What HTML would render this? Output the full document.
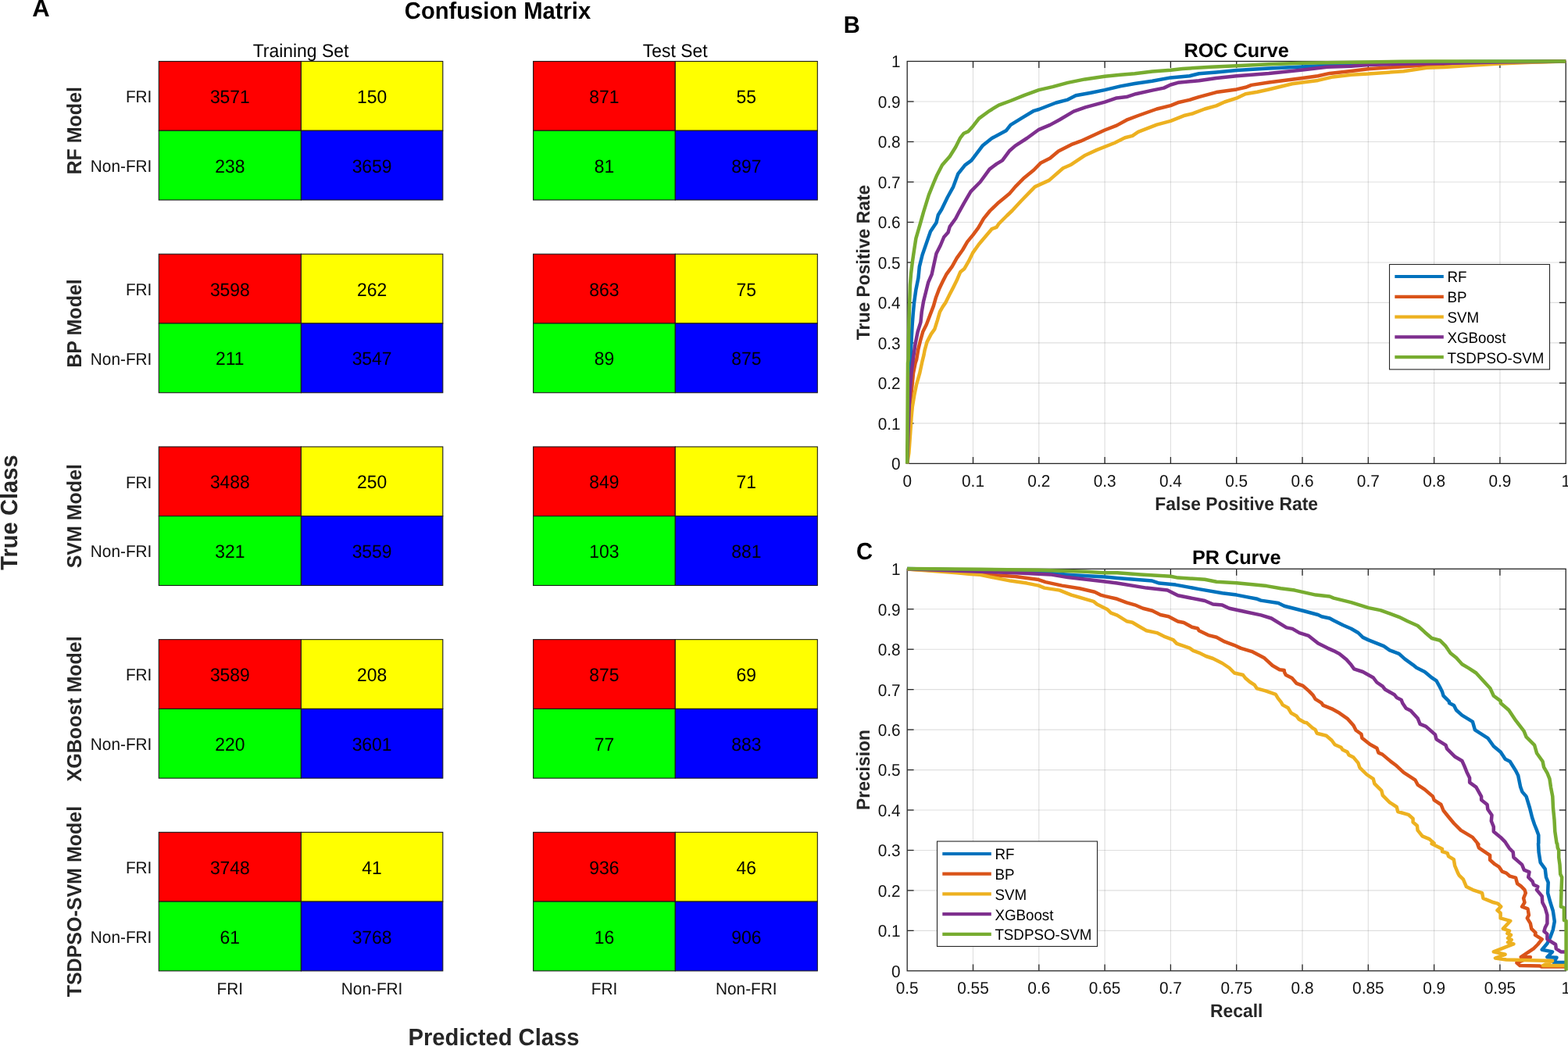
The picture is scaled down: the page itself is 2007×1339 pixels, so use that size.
<!DOCTYPE html>
<html lang="en"><head><meta charset="utf-8"><title>Confusion Matrix, ROC Curve and PR Curve</title>
<style>
html,body{margin:0;padding:0;background:#fff;}
body{width:2007px;height:1339px;overflow:hidden;}
svg{display:block;font-family:'Liberation Sans', sans-serif;text-rendering:geometricPrecision;}
</style></head><body>
<svg width="2007" height="1339" viewBox="0 0 2007 1339">
<rect width="2007" height="1339" fill="#fff"/>
<g id="panelA">
<rect x="203.30" y="78.50" width="182.10" height="88.75" fill="#ff0000" stroke="#1a1a1a" stroke-width="1.1"/>
<rect x="385.40" y="78.50" width="181.40" height="88.75" fill="#ffff00" stroke="#1a1a1a" stroke-width="1.1"/>
<rect x="203.30" y="167.25" width="182.10" height="88.75" fill="#00ff00" stroke="#1a1a1a" stroke-width="1.1"/>
<rect x="385.40" y="167.25" width="181.40" height="88.75" fill="#0000ff" stroke="#1a1a1a" stroke-width="1.1"/>
<text transform="translate(294.35 131.97) scale(1 1.04)" font-size="22.9" font-weight="normal" text-anchor="middle" fill="#000">3571</text>
<text transform="translate(476.10 131.97) scale(1 1.04)" font-size="22.9" font-weight="normal" text-anchor="middle" fill="#000">150</text>
<text transform="translate(294.35 220.72) scale(1 1.04)" font-size="22.9" font-weight="normal" text-anchor="middle" fill="#000">238</text>
<text transform="translate(476.10 220.72) scale(1 1.04)" font-size="22.9" font-weight="normal" text-anchor="middle" fill="#000">3659</text>
<rect x="682.60" y="78.50" width="181.70" height="88.75" fill="#ff0000" stroke="#1a1a1a" stroke-width="1.1"/>
<rect x="864.30" y="78.50" width="182.00" height="88.75" fill="#ffff00" stroke="#1a1a1a" stroke-width="1.1"/>
<rect x="682.60" y="167.25" width="181.70" height="88.75" fill="#00ff00" stroke="#1a1a1a" stroke-width="1.1"/>
<rect x="864.30" y="167.25" width="182.00" height="88.75" fill="#0000ff" stroke="#1a1a1a" stroke-width="1.1"/>
<text transform="translate(773.45 131.97) scale(1 1.04)" font-size="22.9" font-weight="normal" text-anchor="middle" fill="#000">871</text>
<text transform="translate(955.30 131.97) scale(1 1.04)" font-size="22.9" font-weight="normal" text-anchor="middle" fill="#000">55</text>
<text transform="translate(773.45 220.72) scale(1 1.04)" font-size="22.9" font-weight="normal" text-anchor="middle" fill="#000">81</text>
<text transform="translate(955.30 220.72) scale(1 1.04)" font-size="22.9" font-weight="normal" text-anchor="middle" fill="#000">897</text>
<text transform="translate(194.4 131.07) scale(1 1.04)" font-size="20.8" font-weight="normal" text-anchor="end" fill="#111111">FRI</text>
<text transform="translate(194.4 219.82) scale(1 1.04)" font-size="20.8" font-weight="normal" text-anchor="end" fill="#111111">Non-FRI</text>
<text transform="translate(103.9 167.25) rotate(-90) scale(1 1.04)" font-size="25" font-weight="bold" text-anchor="middle" fill="#262626">RF Model</text>
<rect x="203.30" y="325.22" width="182.10" height="88.75" fill="#ff0000" stroke="#1a1a1a" stroke-width="1.1"/>
<rect x="385.40" y="325.22" width="181.40" height="88.75" fill="#ffff00" stroke="#1a1a1a" stroke-width="1.1"/>
<rect x="203.30" y="413.97" width="182.10" height="88.75" fill="#00ff00" stroke="#1a1a1a" stroke-width="1.1"/>
<rect x="385.40" y="413.97" width="181.40" height="88.75" fill="#0000ff" stroke="#1a1a1a" stroke-width="1.1"/>
<text transform="translate(294.35 378.70) scale(1 1.04)" font-size="22.9" font-weight="normal" text-anchor="middle" fill="#000">3598</text>
<text transform="translate(476.10 378.70) scale(1 1.04)" font-size="22.9" font-weight="normal" text-anchor="middle" fill="#000">262</text>
<text transform="translate(294.35 467.45) scale(1 1.04)" font-size="22.9" font-weight="normal" text-anchor="middle" fill="#000">211</text>
<text transform="translate(476.10 467.45) scale(1 1.04)" font-size="22.9" font-weight="normal" text-anchor="middle" fill="#000">3547</text>
<rect x="682.60" y="325.22" width="181.70" height="88.75" fill="#ff0000" stroke="#1a1a1a" stroke-width="1.1"/>
<rect x="864.30" y="325.22" width="182.00" height="88.75" fill="#ffff00" stroke="#1a1a1a" stroke-width="1.1"/>
<rect x="682.60" y="413.97" width="181.70" height="88.75" fill="#00ff00" stroke="#1a1a1a" stroke-width="1.1"/>
<rect x="864.30" y="413.97" width="182.00" height="88.75" fill="#0000ff" stroke="#1a1a1a" stroke-width="1.1"/>
<text transform="translate(773.45 378.70) scale(1 1.04)" font-size="22.9" font-weight="normal" text-anchor="middle" fill="#000">863</text>
<text transform="translate(955.30 378.70) scale(1 1.04)" font-size="22.9" font-weight="normal" text-anchor="middle" fill="#000">75</text>
<text transform="translate(773.45 467.45) scale(1 1.04)" font-size="22.9" font-weight="normal" text-anchor="middle" fill="#000">89</text>
<text transform="translate(955.30 467.45) scale(1 1.04)" font-size="22.9" font-weight="normal" text-anchor="middle" fill="#000">875</text>
<text transform="translate(194.4 377.80) scale(1 1.04)" font-size="20.8" font-weight="normal" text-anchor="end" fill="#111111">FRI</text>
<text transform="translate(194.4 466.55) scale(1 1.04)" font-size="20.8" font-weight="normal" text-anchor="end" fill="#111111">Non-FRI</text>
<text transform="translate(103.9 413.97) rotate(-90) scale(1 1.04)" font-size="25" font-weight="bold" text-anchor="middle" fill="#262626">BP Model</text>
<rect x="203.30" y="571.94" width="182.10" height="88.75" fill="#ff0000" stroke="#1a1a1a" stroke-width="1.1"/>
<rect x="385.40" y="571.94" width="181.40" height="88.75" fill="#ffff00" stroke="#1a1a1a" stroke-width="1.1"/>
<rect x="203.30" y="660.69" width="182.10" height="88.75" fill="#00ff00" stroke="#1a1a1a" stroke-width="1.1"/>
<rect x="385.40" y="660.69" width="181.40" height="88.75" fill="#0000ff" stroke="#1a1a1a" stroke-width="1.1"/>
<text transform="translate(294.35 625.42) scale(1 1.04)" font-size="22.9" font-weight="normal" text-anchor="middle" fill="#000">3488</text>
<text transform="translate(476.10 625.42) scale(1 1.04)" font-size="22.9" font-weight="normal" text-anchor="middle" fill="#000">250</text>
<text transform="translate(294.35 714.17) scale(1 1.04)" font-size="22.9" font-weight="normal" text-anchor="middle" fill="#000">321</text>
<text transform="translate(476.10 714.17) scale(1 1.04)" font-size="22.9" font-weight="normal" text-anchor="middle" fill="#000">3559</text>
<rect x="682.60" y="571.94" width="181.70" height="88.75" fill="#ff0000" stroke="#1a1a1a" stroke-width="1.1"/>
<rect x="864.30" y="571.94" width="182.00" height="88.75" fill="#ffff00" stroke="#1a1a1a" stroke-width="1.1"/>
<rect x="682.60" y="660.69" width="181.70" height="88.75" fill="#00ff00" stroke="#1a1a1a" stroke-width="1.1"/>
<rect x="864.30" y="660.69" width="182.00" height="88.75" fill="#0000ff" stroke="#1a1a1a" stroke-width="1.1"/>
<text transform="translate(773.45 625.42) scale(1 1.04)" font-size="22.9" font-weight="normal" text-anchor="middle" fill="#000">849</text>
<text transform="translate(955.30 625.42) scale(1 1.04)" font-size="22.9" font-weight="normal" text-anchor="middle" fill="#000">71</text>
<text transform="translate(773.45 714.17) scale(1 1.04)" font-size="22.9" font-weight="normal" text-anchor="middle" fill="#000">103</text>
<text transform="translate(955.30 714.17) scale(1 1.04)" font-size="22.9" font-weight="normal" text-anchor="middle" fill="#000">881</text>
<text transform="translate(194.4 624.52) scale(1 1.04)" font-size="20.8" font-weight="normal" text-anchor="end" fill="#111111">FRI</text>
<text transform="translate(194.4 713.27) scale(1 1.04)" font-size="20.8" font-weight="normal" text-anchor="end" fill="#111111">Non-FRI</text>
<text transform="translate(103.9 660.69) rotate(-90) scale(1 1.04)" font-size="25" font-weight="bold" text-anchor="middle" fill="#262626">SVM Model</text>
<rect x="203.30" y="818.66" width="182.10" height="88.75" fill="#ff0000" stroke="#1a1a1a" stroke-width="1.1"/>
<rect x="385.40" y="818.66" width="181.40" height="88.75" fill="#ffff00" stroke="#1a1a1a" stroke-width="1.1"/>
<rect x="203.30" y="907.41" width="182.10" height="88.75" fill="#00ff00" stroke="#1a1a1a" stroke-width="1.1"/>
<rect x="385.40" y="907.41" width="181.40" height="88.75" fill="#0000ff" stroke="#1a1a1a" stroke-width="1.1"/>
<text transform="translate(294.35 872.13) scale(1 1.04)" font-size="22.9" font-weight="normal" text-anchor="middle" fill="#000">3589</text>
<text transform="translate(476.10 872.13) scale(1 1.04)" font-size="22.9" font-weight="normal" text-anchor="middle" fill="#000">208</text>
<text transform="translate(294.35 960.88) scale(1 1.04)" font-size="22.9" font-weight="normal" text-anchor="middle" fill="#000">220</text>
<text transform="translate(476.10 960.88) scale(1 1.04)" font-size="22.9" font-weight="normal" text-anchor="middle" fill="#000">3601</text>
<rect x="682.60" y="818.66" width="181.70" height="88.75" fill="#ff0000" stroke="#1a1a1a" stroke-width="1.1"/>
<rect x="864.30" y="818.66" width="182.00" height="88.75" fill="#ffff00" stroke="#1a1a1a" stroke-width="1.1"/>
<rect x="682.60" y="907.41" width="181.70" height="88.75" fill="#00ff00" stroke="#1a1a1a" stroke-width="1.1"/>
<rect x="864.30" y="907.41" width="182.00" height="88.75" fill="#0000ff" stroke="#1a1a1a" stroke-width="1.1"/>
<text transform="translate(773.45 872.13) scale(1 1.04)" font-size="22.9" font-weight="normal" text-anchor="middle" fill="#000">875</text>
<text transform="translate(955.30 872.13) scale(1 1.04)" font-size="22.9" font-weight="normal" text-anchor="middle" fill="#000">69</text>
<text transform="translate(773.45 960.88) scale(1 1.04)" font-size="22.9" font-weight="normal" text-anchor="middle" fill="#000">77</text>
<text transform="translate(955.30 960.88) scale(1 1.04)" font-size="22.9" font-weight="normal" text-anchor="middle" fill="#000">883</text>
<text transform="translate(194.4 871.24) scale(1 1.04)" font-size="20.8" font-weight="normal" text-anchor="end" fill="#111111">FRI</text>
<text transform="translate(194.4 959.99) scale(1 1.04)" font-size="20.8" font-weight="normal" text-anchor="end" fill="#111111">Non-FRI</text>
<text transform="translate(103.9 907.41) rotate(-90) scale(1 1.04)" font-size="25" font-weight="bold" text-anchor="middle" fill="#262626">XGBoost Model</text>
<rect x="203.30" y="1065.38" width="182.10" height="88.75" fill="#ff0000" stroke="#1a1a1a" stroke-width="1.1"/>
<rect x="385.40" y="1065.38" width="181.40" height="88.75" fill="#ffff00" stroke="#1a1a1a" stroke-width="1.1"/>
<rect x="203.30" y="1154.13" width="182.10" height="88.75" fill="#00ff00" stroke="#1a1a1a" stroke-width="1.1"/>
<rect x="385.40" y="1154.13" width="181.40" height="88.75" fill="#0000ff" stroke="#1a1a1a" stroke-width="1.1"/>
<text transform="translate(294.35 1118.86) scale(1 1.04)" font-size="22.9" font-weight="normal" text-anchor="middle" fill="#000">3748</text>
<text transform="translate(476.10 1118.86) scale(1 1.04)" font-size="22.9" font-weight="normal" text-anchor="middle" fill="#000">41</text>
<text transform="translate(294.35 1207.61) scale(1 1.04)" font-size="22.9" font-weight="normal" text-anchor="middle" fill="#000">61</text>
<text transform="translate(476.10 1207.61) scale(1 1.04)" font-size="22.9" font-weight="normal" text-anchor="middle" fill="#000">3768</text>
<rect x="682.60" y="1065.38" width="181.70" height="88.75" fill="#ff0000" stroke="#1a1a1a" stroke-width="1.1"/>
<rect x="864.30" y="1065.38" width="182.00" height="88.75" fill="#ffff00" stroke="#1a1a1a" stroke-width="1.1"/>
<rect x="682.60" y="1154.13" width="181.70" height="88.75" fill="#00ff00" stroke="#1a1a1a" stroke-width="1.1"/>
<rect x="864.30" y="1154.13" width="182.00" height="88.75" fill="#0000ff" stroke="#1a1a1a" stroke-width="1.1"/>
<text transform="translate(773.45 1118.86) scale(1 1.04)" font-size="22.9" font-weight="normal" text-anchor="middle" fill="#000">936</text>
<text transform="translate(955.30 1118.86) scale(1 1.04)" font-size="22.9" font-weight="normal" text-anchor="middle" fill="#000">46</text>
<text transform="translate(773.45 1207.61) scale(1 1.04)" font-size="22.9" font-weight="normal" text-anchor="middle" fill="#000">16</text>
<text transform="translate(955.30 1207.61) scale(1 1.04)" font-size="22.9" font-weight="normal" text-anchor="middle" fill="#000">906</text>
<text transform="translate(194.4 1117.96) scale(1 1.04)" font-size="20.8" font-weight="normal" text-anchor="end" fill="#111111">FRI</text>
<text transform="translate(194.4 1206.71) scale(1 1.04)" font-size="20.8" font-weight="normal" text-anchor="end" fill="#111111">Non-FRI</text>
<text transform="translate(103.9 1154.13) rotate(-90) scale(1 1.04)" font-size="25" font-weight="bold" text-anchor="middle" fill="#262626">TSDPSO-SVM Model</text>
<text transform="translate(385 73.2) scale(1 1.04)" font-size="22.9" font-weight="normal" text-anchor="middle" fill="#000">Training Set</text>
<text transform="translate(864.2 73.2) scale(1 1.04)" font-size="22.9" font-weight="normal" text-anchor="middle" fill="#000">Test Set</text>
<text transform="translate(294.35 1272.6) scale(1 1.04)" font-size="20.8" font-weight="normal" text-anchor="middle" fill="#111111">FRI</text>
<text transform="translate(476.10 1272.6) scale(1 1.04)" font-size="20.8" font-weight="normal" text-anchor="middle" fill="#111111">Non-FRI</text>
<text transform="translate(773.45 1272.6) scale(1 1.04)" font-size="20.8" font-weight="normal" text-anchor="middle" fill="#111111">FRI</text>
<text transform="translate(955.30 1272.6) scale(1 1.04)" font-size="20.8" font-weight="normal" text-anchor="middle" fill="#111111">Non-FRI</text>
<text transform="translate(41.3 20.6)" font-size="31" font-weight="bold" text-anchor="start" fill="#000">A</text>
<text transform="translate(637 24) scale(1 1.04)" font-size="29.2" font-weight="bold" text-anchor="middle" fill="#000">Confusion Matrix</text>
<text transform="translate(22 656) rotate(-90) scale(1 1.04)" font-size="29.2" font-weight="bold" text-anchor="middle" fill="#262626">True Class</text>
<text transform="translate(632 1338.4) scale(1 1.04)" font-size="29.2" font-weight="bold" text-anchor="middle" fill="#262626">Predicted Class</text>
</g>
<g id="panelB">
<rect x="1161.2" y="78.5" width="843.00" height="514.90" fill="#fff"/>
<line x1="1245.50" y1="78.5" x2="1245.50" y2="593.4" stroke="#262626" stroke-opacity="0.15" stroke-width="1.15"/>
<line x1="1329.80" y1="78.5" x2="1329.80" y2="593.4" stroke="#262626" stroke-opacity="0.15" stroke-width="1.15"/>
<line x1="1414.10" y1="78.5" x2="1414.10" y2="593.4" stroke="#262626" stroke-opacity="0.15" stroke-width="1.15"/>
<line x1="1498.40" y1="78.5" x2="1498.40" y2="593.4" stroke="#262626" stroke-opacity="0.15" stroke-width="1.15"/>
<line x1="1582.70" y1="78.5" x2="1582.70" y2="593.4" stroke="#262626" stroke-opacity="0.15" stroke-width="1.15"/>
<line x1="1667.00" y1="78.5" x2="1667.00" y2="593.4" stroke="#262626" stroke-opacity="0.15" stroke-width="1.15"/>
<line x1="1751.30" y1="78.5" x2="1751.30" y2="593.4" stroke="#262626" stroke-opacity="0.15" stroke-width="1.15"/>
<line x1="1835.60" y1="78.5" x2="1835.60" y2="593.4" stroke="#262626" stroke-opacity="0.15" stroke-width="1.15"/>
<line x1="1919.90" y1="78.5" x2="1919.90" y2="593.4" stroke="#262626" stroke-opacity="0.15" stroke-width="1.15"/>
<line x1="1161.2" y1="541.91" x2="2004.2" y2="541.91" stroke="#262626" stroke-opacity="0.15" stroke-width="1.15"/>
<line x1="1161.2" y1="490.42" x2="2004.2" y2="490.42" stroke="#262626" stroke-opacity="0.15" stroke-width="1.15"/>
<line x1="1161.2" y1="438.93" x2="2004.2" y2="438.93" stroke="#262626" stroke-opacity="0.15" stroke-width="1.15"/>
<line x1="1161.2" y1="387.44" x2="2004.2" y2="387.44" stroke="#262626" stroke-opacity="0.15" stroke-width="1.15"/>
<line x1="1161.2" y1="335.95" x2="2004.2" y2="335.95" stroke="#262626" stroke-opacity="0.15" stroke-width="1.15"/>
<line x1="1161.2" y1="284.46" x2="2004.2" y2="284.46" stroke="#262626" stroke-opacity="0.15" stroke-width="1.15"/>
<line x1="1161.2" y1="232.97" x2="2004.2" y2="232.97" stroke="#262626" stroke-opacity="0.15" stroke-width="1.15"/>
<line x1="1161.2" y1="181.48" x2="2004.2" y2="181.48" stroke="#262626" stroke-opacity="0.15" stroke-width="1.15"/>
<line x1="1161.2" y1="129.99" x2="2004.2" y2="129.99" stroke="#262626" stroke-opacity="0.15" stroke-width="1.15"/>
<text transform="translate(1161.20 622.50) scale(1 1.04)" font-size="20.8" font-weight="normal" text-anchor="middle" fill="#111111">0</text>
<line x1="1245.50" y1="593.4" x2="1245.50" y2="585.0" stroke="#262626" stroke-width="1.3"/>
<line x1="1245.50" y1="78.5" x2="1245.50" y2="86.9" stroke="#262626" stroke-width="1.3"/>
<text transform="translate(1245.50 622.50) scale(1 1.04)" font-size="20.8" font-weight="normal" text-anchor="middle" fill="#111111">0.1</text>
<line x1="1329.80" y1="593.4" x2="1329.80" y2="585.0" stroke="#262626" stroke-width="1.3"/>
<line x1="1329.80" y1="78.5" x2="1329.80" y2="86.9" stroke="#262626" stroke-width="1.3"/>
<text transform="translate(1329.80 622.50) scale(1 1.04)" font-size="20.8" font-weight="normal" text-anchor="middle" fill="#111111">0.2</text>
<line x1="1414.10" y1="593.4" x2="1414.10" y2="585.0" stroke="#262626" stroke-width="1.3"/>
<line x1="1414.10" y1="78.5" x2="1414.10" y2="86.9" stroke="#262626" stroke-width="1.3"/>
<text transform="translate(1414.10 622.50) scale(1 1.04)" font-size="20.8" font-weight="normal" text-anchor="middle" fill="#111111">0.3</text>
<line x1="1498.40" y1="593.4" x2="1498.40" y2="585.0" stroke="#262626" stroke-width="1.3"/>
<line x1="1498.40" y1="78.5" x2="1498.40" y2="86.9" stroke="#262626" stroke-width="1.3"/>
<text transform="translate(1498.40 622.50) scale(1 1.04)" font-size="20.8" font-weight="normal" text-anchor="middle" fill="#111111">0.4</text>
<line x1="1582.70" y1="593.4" x2="1582.70" y2="585.0" stroke="#262626" stroke-width="1.3"/>
<line x1="1582.70" y1="78.5" x2="1582.70" y2="86.9" stroke="#262626" stroke-width="1.3"/>
<text transform="translate(1582.70 622.50) scale(1 1.04)" font-size="20.8" font-weight="normal" text-anchor="middle" fill="#111111">0.5</text>
<line x1="1667.00" y1="593.4" x2="1667.00" y2="585.0" stroke="#262626" stroke-width="1.3"/>
<line x1="1667.00" y1="78.5" x2="1667.00" y2="86.9" stroke="#262626" stroke-width="1.3"/>
<text transform="translate(1667.00 622.50) scale(1 1.04)" font-size="20.8" font-weight="normal" text-anchor="middle" fill="#111111">0.6</text>
<line x1="1751.30" y1="593.4" x2="1751.30" y2="585.0" stroke="#262626" stroke-width="1.3"/>
<line x1="1751.30" y1="78.5" x2="1751.30" y2="86.9" stroke="#262626" stroke-width="1.3"/>
<text transform="translate(1751.30 622.50) scale(1 1.04)" font-size="20.8" font-weight="normal" text-anchor="middle" fill="#111111">0.7</text>
<line x1="1835.60" y1="593.4" x2="1835.60" y2="585.0" stroke="#262626" stroke-width="1.3"/>
<line x1="1835.60" y1="78.5" x2="1835.60" y2="86.9" stroke="#262626" stroke-width="1.3"/>
<text transform="translate(1835.60 622.50) scale(1 1.04)" font-size="20.8" font-weight="normal" text-anchor="middle" fill="#111111">0.8</text>
<line x1="1919.90" y1="593.4" x2="1919.90" y2="585.0" stroke="#262626" stroke-width="1.3"/>
<line x1="1919.90" y1="78.5" x2="1919.90" y2="86.9" stroke="#262626" stroke-width="1.3"/>
<text transform="translate(1919.90 622.50) scale(1 1.04)" font-size="20.8" font-weight="normal" text-anchor="middle" fill="#111111">0.9</text>
<text transform="translate(2004.20 622.50) scale(1 1.04)" font-size="20.8" font-weight="normal" text-anchor="middle" fill="#111111">1</text>
<text transform="translate(1152.60 601.30) scale(1 1.04)" font-size="20.8" font-weight="normal" text-anchor="end" fill="#111111">0</text>
<line x1="1161.2" y1="541.91" x2="1169.6000000000001" y2="541.91" stroke="#262626" stroke-width="1.3"/>
<line x1="2004.2" y1="541.91" x2="1995.8" y2="541.91" stroke="#262626" stroke-width="1.3"/>
<text transform="translate(1152.60 549.81) scale(1 1.04)" font-size="20.8" font-weight="normal" text-anchor="end" fill="#111111">0.1</text>
<line x1="1161.2" y1="490.42" x2="1169.6000000000001" y2="490.42" stroke="#262626" stroke-width="1.3"/>
<line x1="2004.2" y1="490.42" x2="1995.8" y2="490.42" stroke="#262626" stroke-width="1.3"/>
<text transform="translate(1152.60 498.32) scale(1 1.04)" font-size="20.8" font-weight="normal" text-anchor="end" fill="#111111">0.2</text>
<line x1="1161.2" y1="438.93" x2="1169.6000000000001" y2="438.93" stroke="#262626" stroke-width="1.3"/>
<line x1="2004.2" y1="438.93" x2="1995.8" y2="438.93" stroke="#262626" stroke-width="1.3"/>
<text transform="translate(1152.60 446.83) scale(1 1.04)" font-size="20.8" font-weight="normal" text-anchor="end" fill="#111111">0.3</text>
<line x1="1161.2" y1="387.44" x2="1169.6000000000001" y2="387.44" stroke="#262626" stroke-width="1.3"/>
<line x1="2004.2" y1="387.44" x2="1995.8" y2="387.44" stroke="#262626" stroke-width="1.3"/>
<text transform="translate(1152.60 395.34) scale(1 1.04)" font-size="20.8" font-weight="normal" text-anchor="end" fill="#111111">0.4</text>
<line x1="1161.2" y1="335.95" x2="1169.6000000000001" y2="335.95" stroke="#262626" stroke-width="1.3"/>
<line x1="2004.2" y1="335.95" x2="1995.8" y2="335.95" stroke="#262626" stroke-width="1.3"/>
<text transform="translate(1152.60 343.85) scale(1 1.04)" font-size="20.8" font-weight="normal" text-anchor="end" fill="#111111">0.5</text>
<line x1="1161.2" y1="284.46" x2="1169.6000000000001" y2="284.46" stroke="#262626" stroke-width="1.3"/>
<line x1="2004.2" y1="284.46" x2="1995.8" y2="284.46" stroke="#262626" stroke-width="1.3"/>
<text transform="translate(1152.60 292.36) scale(1 1.04)" font-size="20.8" font-weight="normal" text-anchor="end" fill="#111111">0.6</text>
<line x1="1161.2" y1="232.97" x2="1169.6000000000001" y2="232.97" stroke="#262626" stroke-width="1.3"/>
<line x1="2004.2" y1="232.97" x2="1995.8" y2="232.97" stroke="#262626" stroke-width="1.3"/>
<text transform="translate(1152.60 240.87) scale(1 1.04)" font-size="20.8" font-weight="normal" text-anchor="end" fill="#111111">0.7</text>
<line x1="1161.2" y1="181.48" x2="1169.6000000000001" y2="181.48" stroke="#262626" stroke-width="1.3"/>
<line x1="2004.2" y1="181.48" x2="1995.8" y2="181.48" stroke="#262626" stroke-width="1.3"/>
<text transform="translate(1152.60 189.38) scale(1 1.04)" font-size="20.8" font-weight="normal" text-anchor="end" fill="#111111">0.8</text>
<line x1="1161.2" y1="129.99" x2="1169.6000000000001" y2="129.99" stroke="#262626" stroke-width="1.3"/>
<line x1="2004.2" y1="129.99" x2="1995.8" y2="129.99" stroke="#262626" stroke-width="1.3"/>
<text transform="translate(1152.60 137.89) scale(1 1.04)" font-size="20.8" font-weight="normal" text-anchor="end" fill="#111111">0.9</text>
<text transform="translate(1152.60 86.40) scale(1 1.04)" font-size="20.8" font-weight="normal" text-anchor="end" fill="#111111">1</text>
<rect x="1161.2" y="78.5" width="843.00" height="514.90" fill="none" stroke="#262626" stroke-width="1.3"/>
<polyline points="1161.2,593.4 1163.7,516.2 1165.2,464.9 1165.7,460.0 1166.4,439.4 1167.6,417.0 1168.7,402.1 1170.1,387.1 1172.4,370.7 1175.4,356.0 1176.9,341.1 1180.6,326.2 1185.8,311.2 1191.0,296.3 1198.5,285.0 1200.8,275.2 1205.3,268.0 1212.8,252.5 1220.2,239.1 1226.2,222.7 1235.2,211.3 1243.4,205.4 1257.6,186.6 1269.5,177.0 1287.7,167.3 1293.6,159.9 1307.0,151.6 1323.4,141.8 1329.8,140.0 1351.7,131.5 1366.7,127.6 1377.0,122.3 1396.4,118.7 1414.1,115.1 1434.0,110.4 1452.4,107.0 1474.8,103.7 1498.4,99.4 1522.6,97.2 1534.6,94.2 1556.9,92.4 1582.7,90.1 1624.0,87.6 1667.0,85.4 1698.8,83.4 1729.4,82.3 1793.5,80.6 1877.8,79.0 2004.2,78.5" fill="none" stroke="#0072BD" stroke-width="4.5" stroke-linejoin="round" stroke-linecap="butt"/>
<polyline points="1161.2,593.4 1162.9,552.2 1165.0,516.2 1166.5,503.3 1167.8,490.4 1169.0,477.7 1171.6,464.9 1173.2,460.0 1175.4,446.7 1178.4,434.8 1181.3,424.5 1185.8,415.5 1190.3,403.6 1194.9,391.6 1197.8,381.3 1202.3,369.4 1206.7,360.3 1211.2,351.4 1218.7,341.1 1224.7,330.4 1232.1,320.0 1238.1,309.7 1245.5,300.6 1252.2,291.7 1259.0,279.8 1267.0,270.0 1277.0,260.3 1291.9,248.1 1299.5,239.1 1309.9,228.6 1323.4,217.5 1332.3,208.4 1344.1,202.4 1354.8,193.5 1371.1,185.2 1383.2,180.7 1401.1,172.5 1414.1,166.5 1429.3,160.6 1441.9,153.7 1456.8,148.0 1480.7,139.5 1498.4,135.1 1507.7,131.3 1522.6,127.9 1534.6,124.1 1556.9,118.1 1582.7,114.4 1594.2,111.8 1601.8,108.9 1624.0,105.5 1667.0,99.9 1686.9,97.2 1701.8,93.9 1729.4,90.9 1751.3,88.3 1796.6,85.2 1826.3,83.3 1856.3,81.8 1919.9,80.0 2004.2,78.5" fill="none" stroke="#D95319" stroke-width="4.5" stroke-linejoin="round" stroke-linecap="butt"/>
<polyline points="1161.2,593.4 1163.4,579.7 1165.2,554.3 1166.5,535.0 1167.8,521.0 1170.3,505.9 1172.9,493.0 1177.2,477.7 1180.5,462.4 1182.5,454.4 1183.6,448.4 1186.5,437.9 1191.8,427.6 1196.3,421.4 1200.0,409.6 1203.0,399.1 1206.7,392.6 1210.5,387.1 1215.7,376.6 1220.2,367.9 1224.7,358.8 1229.1,348.3 1234.4,343.9 1239.6,334.9 1245.5,323.1 1253.1,312.5 1262.0,302.0 1269.4,293.2 1275.4,290.9 1278.4,286.5 1288.9,276.0 1295.7,269.5 1307.0,257.2 1318.8,245.1 1324.7,239.1 1342.8,230.9 1360.7,215.2 1371.1,210.7 1389.1,198.7 1404.0,191.9 1426.5,183.0 1440.0,176.3 1449.5,173.9 1456.8,168.9 1480.7,159.6 1498.4,154.9 1516.6,147.7 1527.1,145.2 1542.0,139.5 1556.9,135.4 1567.5,130.5 1582.7,125.7 1594.2,120.2 1609.2,117.8 1624.0,114.5 1654.0,107.3 1667.0,105.5 1686.9,102.9 1706.3,98.4 1729.4,95.7 1751.3,94.6 1796.6,91.2 1826.3,86.7 1848.8,86.0 1886.2,83.6 1919.9,81.6 1961.0,79.7 2004.2,78.5" fill="none" stroke="#EDB120" stroke-width="4.5" stroke-linejoin="round" stroke-linecap="butt"/>
<polyline points="1161.2,593.4 1162.5,554.3 1163.4,528.5 1164.6,503.3 1166.5,477.7 1168.7,460.0 1171.7,439.4 1174.7,424.5 1178.4,412.7 1179.8,399.1 1182.1,385.6 1185.1,373.7 1188.1,361.7 1192.6,351.4 1195.5,338.0 1198.5,324.6 1203.8,314.0 1208.2,303.5 1213.5,297.6 1215.7,290.1 1223.2,279.8 1227.6,271.3 1233.7,260.3 1242.6,245.1 1254.6,233.0 1266.6,216.6 1275.5,209.9 1283.0,205.4 1291.9,193.3 1299.5,186.6 1314.4,177.0 1329.8,165.8 1344.1,159.9 1356.3,153.2 1374.2,142.6 1389.1,137.3 1414.1,130.6 1429.3,125.4 1441.9,124.1 1453.9,120.2 1474.8,115.6 1489.7,112.6 1498.4,108.5 1507.7,105.8 1534.6,103.2 1556.9,99.9 1582.7,97.2 1624.0,93.9 1667.0,89.4 1698.8,85.7 1729.4,84.7 1751.3,83.0 1796.6,81.8 1856.3,80.8 1919.9,79.5 2004.2,78.5" fill="none" stroke="#7E2F8E" stroke-width="4.5" stroke-linejoin="round" stroke-linecap="butt"/>
<polyline points="1161.2,593.4 1162.0,464.7 1162.7,460.0 1162.9,439.4 1163.5,409.6 1164.2,387.1 1164.9,364.8 1166.1,349.9 1167.9,334.9 1170.1,320.0 1172.4,305.1 1175.4,294.8 1178.4,284.5 1182.1,271.3 1188.9,249.4 1194.9,234.5 1199.3,224.2 1206.0,211.3 1215.7,200.2 1223.2,188.2 1229.2,176.3 1233.7,170.7 1239.6,168.1 1245.5,161.4 1253.1,151.6 1266.6,141.8 1278.4,134.6 1293.6,129.0 1311.3,121.8 1329.8,115.1 1347.3,111.1 1366.7,105.9 1388.8,101.4 1414.1,97.7 1434.0,95.7 1452.4,94.2 1474.8,91.6 1498.4,89.8 1513.6,87.9 1549.5,85.7 1582.7,84.2 1624.0,82.3 1667.0,80.8 1729.4,79.7 1793.5,78.8 1835.6,78.5 2004.2,78.5" fill="none" stroke="#77AC30" stroke-width="4.5" stroke-linejoin="round" stroke-linecap="butt"/>
<text transform="translate(1582.7 72.6)" font-size="25.2" font-weight="bold" text-anchor="middle" fill="#000">ROC Curve</text>
<text transform="translate(1582.7 652.9) scale(1 1.04)" font-size="22.9" font-weight="bold" text-anchor="middle" fill="#262626">False Positive Rate</text>
<text transform="translate(1113 335.9) rotate(-90) scale(1 1.04)" font-size="22.9" font-weight="bold" text-anchor="middle" fill="#262626">True Positive Rate</text>
<rect x="1778.5" y="338.5" width="205.0" height="134.39999999999998" fill="#fff" stroke="#262626" stroke-width="1.1"/>
<line x1="1785.3" y1="354" x2="1847.8" y2="354" stroke="#0072BD" stroke-width="4.2"/>
<text transform="translate(1852.4 361.4) scale(1 1.04)" font-size="18.75" font-weight="normal" text-anchor="start" fill="#000">RF</text>
<line x1="1785.3" y1="379.8" x2="1847.8" y2="379.8" stroke="#D95319" stroke-width="4.2"/>
<text transform="translate(1852.4 387.2) scale(1 1.04)" font-size="18.75" font-weight="normal" text-anchor="start" fill="#000">BP</text>
<line x1="1785.3" y1="405.6" x2="1847.8" y2="405.6" stroke="#EDB120" stroke-width="4.2"/>
<text transform="translate(1852.4 413.0) scale(1 1.04)" font-size="18.75" font-weight="normal" text-anchor="start" fill="#000">SVM</text>
<line x1="1785.3" y1="431.4" x2="1847.8" y2="431.4" stroke="#7E2F8E" stroke-width="4.2"/>
<text transform="translate(1852.4 438.8) scale(1 1.04)" font-size="18.75" font-weight="normal" text-anchor="start" fill="#000">XGBoost</text>
<line x1="1785.3" y1="457.2" x2="1847.8" y2="457.2" stroke="#77AC30" stroke-width="4.2"/>
<text transform="translate(1852.4 464.6) scale(1 1.04)" font-size="18.75" font-weight="normal" text-anchor="start" fill="#000">TSDPSO-SVM</text>
<text transform="translate(1079.7 41.5) scale(1 1.04)" font-size="29.2" font-weight="bold" text-anchor="start" fill="#000">B</text>
</g>
<g id="panelC">
<rect x="1161.2" y="728.3" width="843.00" height="514.50" fill="#fff"/>
<line x1="1245.50" y1="728.3" x2="1245.50" y2="1242.8" stroke="#262626" stroke-opacity="0.15" stroke-width="1.15"/>
<line x1="1329.80" y1="728.3" x2="1329.80" y2="1242.8" stroke="#262626" stroke-opacity="0.15" stroke-width="1.15"/>
<line x1="1414.10" y1="728.3" x2="1414.10" y2="1242.8" stroke="#262626" stroke-opacity="0.15" stroke-width="1.15"/>
<line x1="1498.40" y1="728.3" x2="1498.40" y2="1242.8" stroke="#262626" stroke-opacity="0.15" stroke-width="1.15"/>
<line x1="1582.70" y1="728.3" x2="1582.70" y2="1242.8" stroke="#262626" stroke-opacity="0.15" stroke-width="1.15"/>
<line x1="1667.00" y1="728.3" x2="1667.00" y2="1242.8" stroke="#262626" stroke-opacity="0.15" stroke-width="1.15"/>
<line x1="1751.30" y1="728.3" x2="1751.30" y2="1242.8" stroke="#262626" stroke-opacity="0.15" stroke-width="1.15"/>
<line x1="1835.60" y1="728.3" x2="1835.60" y2="1242.8" stroke="#262626" stroke-opacity="0.15" stroke-width="1.15"/>
<line x1="1919.90" y1="728.3" x2="1919.90" y2="1242.8" stroke="#262626" stroke-opacity="0.15" stroke-width="1.15"/>
<line x1="1161.2" y1="1191.35" x2="2004.2" y2="1191.35" stroke="#262626" stroke-opacity="0.15" stroke-width="1.15"/>
<line x1="1161.2" y1="1139.90" x2="2004.2" y2="1139.90" stroke="#262626" stroke-opacity="0.15" stroke-width="1.15"/>
<line x1="1161.2" y1="1088.45" x2="2004.2" y2="1088.45" stroke="#262626" stroke-opacity="0.15" stroke-width="1.15"/>
<line x1="1161.2" y1="1037.00" x2="2004.2" y2="1037.00" stroke="#262626" stroke-opacity="0.15" stroke-width="1.15"/>
<line x1="1161.2" y1="985.55" x2="2004.2" y2="985.55" stroke="#262626" stroke-opacity="0.15" stroke-width="1.15"/>
<line x1="1161.2" y1="934.10" x2="2004.2" y2="934.10" stroke="#262626" stroke-opacity="0.15" stroke-width="1.15"/>
<line x1="1161.2" y1="882.65" x2="2004.2" y2="882.65" stroke="#262626" stroke-opacity="0.15" stroke-width="1.15"/>
<line x1="1161.2" y1="831.20" x2="2004.2" y2="831.20" stroke="#262626" stroke-opacity="0.15" stroke-width="1.15"/>
<line x1="1161.2" y1="779.75" x2="2004.2" y2="779.75" stroke="#262626" stroke-opacity="0.15" stroke-width="1.15"/>
<text transform="translate(1161.20 1271.90) scale(1 1.04)" font-size="20.8" font-weight="normal" text-anchor="middle" fill="#111111">0.5</text>
<line x1="1245.50" y1="1242.8" x2="1245.50" y2="1234.3999999999999" stroke="#262626" stroke-width="1.3"/>
<line x1="1245.50" y1="728.3" x2="1245.50" y2="736.6999999999999" stroke="#262626" stroke-width="1.3"/>
<text transform="translate(1245.50 1271.90) scale(1 1.04)" font-size="20.8" font-weight="normal" text-anchor="middle" fill="#111111">0.55</text>
<line x1="1329.80" y1="1242.8" x2="1329.80" y2="1234.3999999999999" stroke="#262626" stroke-width="1.3"/>
<line x1="1329.80" y1="728.3" x2="1329.80" y2="736.6999999999999" stroke="#262626" stroke-width="1.3"/>
<text transform="translate(1329.80 1271.90) scale(1 1.04)" font-size="20.8" font-weight="normal" text-anchor="middle" fill="#111111">0.6</text>
<line x1="1414.10" y1="1242.8" x2="1414.10" y2="1234.3999999999999" stroke="#262626" stroke-width="1.3"/>
<line x1="1414.10" y1="728.3" x2="1414.10" y2="736.6999999999999" stroke="#262626" stroke-width="1.3"/>
<text transform="translate(1414.10 1271.90) scale(1 1.04)" font-size="20.8" font-weight="normal" text-anchor="middle" fill="#111111">0.65</text>
<line x1="1498.40" y1="1242.8" x2="1498.40" y2="1234.3999999999999" stroke="#262626" stroke-width="1.3"/>
<line x1="1498.40" y1="728.3" x2="1498.40" y2="736.6999999999999" stroke="#262626" stroke-width="1.3"/>
<text transform="translate(1498.40 1271.90) scale(1 1.04)" font-size="20.8" font-weight="normal" text-anchor="middle" fill="#111111">0.7</text>
<line x1="1582.70" y1="1242.8" x2="1582.70" y2="1234.3999999999999" stroke="#262626" stroke-width="1.3"/>
<line x1="1582.70" y1="728.3" x2="1582.70" y2="736.6999999999999" stroke="#262626" stroke-width="1.3"/>
<text transform="translate(1582.70 1271.90) scale(1 1.04)" font-size="20.8" font-weight="normal" text-anchor="middle" fill="#111111">0.75</text>
<line x1="1667.00" y1="1242.8" x2="1667.00" y2="1234.3999999999999" stroke="#262626" stroke-width="1.3"/>
<line x1="1667.00" y1="728.3" x2="1667.00" y2="736.6999999999999" stroke="#262626" stroke-width="1.3"/>
<text transform="translate(1667.00 1271.90) scale(1 1.04)" font-size="20.8" font-weight="normal" text-anchor="middle" fill="#111111">0.8</text>
<line x1="1751.30" y1="1242.8" x2="1751.30" y2="1234.3999999999999" stroke="#262626" stroke-width="1.3"/>
<line x1="1751.30" y1="728.3" x2="1751.30" y2="736.6999999999999" stroke="#262626" stroke-width="1.3"/>
<text transform="translate(1751.30 1271.90) scale(1 1.04)" font-size="20.8" font-weight="normal" text-anchor="middle" fill="#111111">0.85</text>
<line x1="1835.60" y1="1242.8" x2="1835.60" y2="1234.3999999999999" stroke="#262626" stroke-width="1.3"/>
<line x1="1835.60" y1="728.3" x2="1835.60" y2="736.6999999999999" stroke="#262626" stroke-width="1.3"/>
<text transform="translate(1835.60 1271.90) scale(1 1.04)" font-size="20.8" font-weight="normal" text-anchor="middle" fill="#111111">0.9</text>
<line x1="1919.90" y1="1242.8" x2="1919.90" y2="1234.3999999999999" stroke="#262626" stroke-width="1.3"/>
<line x1="1919.90" y1="728.3" x2="1919.90" y2="736.6999999999999" stroke="#262626" stroke-width="1.3"/>
<text transform="translate(1919.90 1271.90) scale(1 1.04)" font-size="20.8" font-weight="normal" text-anchor="middle" fill="#111111">0.95</text>
<text transform="translate(2004.20 1271.90) scale(1 1.04)" font-size="20.8" font-weight="normal" text-anchor="middle" fill="#111111">1</text>
<text transform="translate(1152.60 1250.70) scale(1 1.04)" font-size="20.8" font-weight="normal" text-anchor="end" fill="#111111">0</text>
<line x1="1161.2" y1="1191.35" x2="1169.6000000000001" y2="1191.35" stroke="#262626" stroke-width="1.3"/>
<line x1="2004.2" y1="1191.35" x2="1995.8" y2="1191.35" stroke="#262626" stroke-width="1.3"/>
<text transform="translate(1152.60 1199.25) scale(1 1.04)" font-size="20.8" font-weight="normal" text-anchor="end" fill="#111111">0.1</text>
<line x1="1161.2" y1="1139.90" x2="1169.6000000000001" y2="1139.90" stroke="#262626" stroke-width="1.3"/>
<line x1="2004.2" y1="1139.90" x2="1995.8" y2="1139.90" stroke="#262626" stroke-width="1.3"/>
<text transform="translate(1152.60 1147.80) scale(1 1.04)" font-size="20.8" font-weight="normal" text-anchor="end" fill="#111111">0.2</text>
<line x1="1161.2" y1="1088.45" x2="1169.6000000000001" y2="1088.45" stroke="#262626" stroke-width="1.3"/>
<line x1="2004.2" y1="1088.45" x2="1995.8" y2="1088.45" stroke="#262626" stroke-width="1.3"/>
<text transform="translate(1152.60 1096.35) scale(1 1.04)" font-size="20.8" font-weight="normal" text-anchor="end" fill="#111111">0.3</text>
<line x1="1161.2" y1="1037.00" x2="1169.6000000000001" y2="1037.00" stroke="#262626" stroke-width="1.3"/>
<line x1="2004.2" y1="1037.00" x2="1995.8" y2="1037.00" stroke="#262626" stroke-width="1.3"/>
<text transform="translate(1152.60 1044.90) scale(1 1.04)" font-size="20.8" font-weight="normal" text-anchor="end" fill="#111111">0.4</text>
<line x1="1161.2" y1="985.55" x2="1169.6000000000001" y2="985.55" stroke="#262626" stroke-width="1.3"/>
<line x1="2004.2" y1="985.55" x2="1995.8" y2="985.55" stroke="#262626" stroke-width="1.3"/>
<text transform="translate(1152.60 993.45) scale(1 1.04)" font-size="20.8" font-weight="normal" text-anchor="end" fill="#111111">0.5</text>
<line x1="1161.2" y1="934.10" x2="1169.6000000000001" y2="934.10" stroke="#262626" stroke-width="1.3"/>
<line x1="2004.2" y1="934.10" x2="1995.8" y2="934.10" stroke="#262626" stroke-width="1.3"/>
<text transform="translate(1152.60 942.00) scale(1 1.04)" font-size="20.8" font-weight="normal" text-anchor="end" fill="#111111">0.6</text>
<line x1="1161.2" y1="882.65" x2="1169.6000000000001" y2="882.65" stroke="#262626" stroke-width="1.3"/>
<line x1="2004.2" y1="882.65" x2="1995.8" y2="882.65" stroke="#262626" stroke-width="1.3"/>
<text transform="translate(1152.60 890.55) scale(1 1.04)" font-size="20.8" font-weight="normal" text-anchor="end" fill="#111111">0.7</text>
<line x1="1161.2" y1="831.20" x2="1169.6000000000001" y2="831.20" stroke="#262626" stroke-width="1.3"/>
<line x1="2004.2" y1="831.20" x2="1995.8" y2="831.20" stroke="#262626" stroke-width="1.3"/>
<text transform="translate(1152.60 839.10) scale(1 1.04)" font-size="20.8" font-weight="normal" text-anchor="end" fill="#111111">0.8</text>
<line x1="1161.2" y1="779.75" x2="1169.6000000000001" y2="779.75" stroke="#262626" stroke-width="1.3"/>
<line x1="2004.2" y1="779.75" x2="1995.8" y2="779.75" stroke="#262626" stroke-width="1.3"/>
<text transform="translate(1152.60 787.65) scale(1 1.04)" font-size="20.8" font-weight="normal" text-anchor="end" fill="#111111">0.9</text>
<text transform="translate(1152.60 736.20) scale(1 1.04)" font-size="20.8" font-weight="normal" text-anchor="end" fill="#111111">1</text>
<rect x="1161.2" y="728.3" width="843.00" height="514.50" fill="none" stroke="#262626" stroke-width="1.3"/>
<polyline points="1161.2,728.1 1299.5,730.9 1344.3,733.9 1374.2,736.2 1414.3,738.4 1430.0,739.9 1474.8,743.6 1483.8,746.6 1504.7,748.6 1534.6,754.1 1564.5,759.3 1582.8,761.6 1609.4,766.8 1613.9,768.6 1636.3,772.0 1643.8,775.8 1667.4,781.7 1687.1,787.0 1691.6,789.2 1702.0,791.5 1707.0,794.3 1719.0,800.3 1729.4,804.7 1738.4,810.0 1744.4,815.9 1751.8,819.4 1771.3,827.2 1778.7,832.4 1790.7,836.9 1798.2,843.6 1808.6,851.1 1813.1,854.8 1823.6,860.0 1832.6,867.5 1838.5,871.3 1843.0,879.5 1846.0,885.5 1847.5,890.7 1855.0,898.2 1855.0,900.0 1861.0,903.0 1864.0,909.0 1871.4,915.7 1884.9,923.9 1887.9,934.4 1904.3,944.8 1911.8,955.3 1920.8,962.8 1926.7,971.7 1932.7,974.7 1940.2,986.7 1943.2,992.7 1946.2,1007.6 1948.4,1013.6 1953.6,1019.6 1958.1,1034.5 1961.1,1046.5 1964.1,1055.5 1967.1,1062.9 1969.3,1068.9 1969.3,1079.4 1969.0,1080.0 1969.6,1090.8 1971.7,1104.2 1977.7,1112.3 1979.0,1123.0 1981.7,1129.7 1981.1,1143.2 1984.4,1155.3 1987.8,1166.0 1989.8,1179.5 1987.8,1190.2 1984.4,1199.6 1980.4,1207.7 1973.7,1215.8 1987.1,1218.4 1980.4,1225.2 1992.5,1225.8 1988.5,1231.9 2003.2,1231.9" fill="none" stroke="#0072BD" stroke-width="4.5" stroke-linejoin="round" stroke-linecap="butt"/>
<polyline points="1161.2,728.4 1209.8,730.9 1254.6,733.6 1277.1,736.6 1299.5,738.1 1329.4,742.1 1338.3,745.1 1359.3,749.6 1381.7,753.3 1401.1,757.8 1408.6,761.6 1414.3,763.1 1430.0,766.8 1442.0,771.3 1452.4,774.3 1462.9,778.8 1474.8,781.7 1485.3,787.0 1495.8,789.2 1507.7,795.5 1515.2,797.0 1525.7,802.7 1533.1,804.5 1534.6,807.2 1546.6,813.1 1557.1,815.8 1567.5,821.4 1579.5,825.8 1588.4,829.9 1603.4,834.4 1618.3,842.3 1628.8,852.0 1637.8,857.2 1643.8,858.0 1643.8,860.0 1645.8,864.0 1653.7,868.0 1659.7,874.9 1667.7,877.9 1675.7,884.9 1680.6,889.9 1683.6,894.9 1691.6,899.9 1693.6,902.9 1704.6,907.3 1714.5,912.8 1724.5,919.8 1732.5,928.8 1735.5,934.7 1742.4,939.7 1743.4,944.7 1753.4,952.7 1762.4,957.7 1764.4,963.6 1769.3,965.6 1780.0,974.6 1786.2,979.2 1796.7,988.9 1811.6,998.7 1814.6,1004.6 1823.6,1010.6 1834.1,1019.6 1835.6,1024.1 1844.5,1030.0 1847.5,1037.5 1853.5,1045.0 1861.0,1054.0 1869.9,1062.9 1884.9,1071.9 1892.4,1080.9 1891.0,1080.0 1893.0,1085.4 1901.1,1090.8 1907.1,1094.8 1907.1,1100.8 1913.2,1106.2 1918.6,1109.6 1922.6,1115.6 1928.0,1117.6 1932.7,1121.7 1940.1,1123.7 1942.1,1131.1 1946.8,1134.4 1951.5,1139.1 1952.8,1143.2 1950.1,1149.9 1951.5,1155.3 1948.1,1160.6 1955.5,1163.3 1956.9,1171.4 1954.8,1175.4 1958.9,1182.2 1960.2,1188.9 1965.6,1194.2 1964.9,1196.9 1973.7,1202.3 1968.3,1209.0 1962.9,1214.4 1956.9,1218.4 1946.8,1225.2 1958.9,1225.2 1941.4,1232.6 1945.4,1235.9 1971.0,1236.6 1973.7,1237.5 2003.2,1237.5" fill="none" stroke="#D95319" stroke-width="4.5" stroke-linejoin="round" stroke-linecap="butt"/>
<polyline points="1161.2,728.5 1194.8,730.9 1224.7,733.2 1242.7,735.1 1254.6,735.7 1266.6,738.4 1293.5,743.6 1314.4,746.6 1329.4,749.6 1336.8,752.6 1356.3,755.6 1371.2,761.6 1389.2,766.8 1399.6,769.8 1404.1,773.5 1417.6,780.3 1422.0,784.7 1430.0,787.7 1442.0,795.2 1449.4,796.7 1456.9,801.2 1467.4,807.2 1480.8,810.1 1489.8,814.6 1501.7,819.1 1506.2,823.9 1522.7,829.6 1527.2,832.9 1534.6,835.6 1543.6,840.0 1552.6,843.0 1564.5,849.0 1573.5,855.0 1580.0,861.5 1591.0,864.0 1594.0,868.0 1599.9,873.0 1605.9,876.9 1608.9,881.4 1619.9,884.4 1632.8,888.9 1635.8,893.9 1639.8,898.9 1641.8,902.4 1648.8,906.3 1652.7,912.8 1659.7,916.8 1662.7,920.8 1669.7,924.8 1672.7,925.3 1679.7,931.7 1683.6,934.2 1685.6,938.7 1697.6,941.7 1704.6,947.7 1708.6,953.2 1716.5,956.7 1718.5,959.7 1724.5,962.6 1726.5,966.6 1732.5,969.6 1738.4,976.6 1740.4,982.6 1749.4,991.5 1757.8,997.2 1759.3,1003.1 1768.3,1012.1 1769.8,1018.1 1778.7,1027.1 1787.7,1033.0 1789.2,1039.0 1802.7,1042.8 1808.6,1048.0 1808.6,1052.5 1813.9,1057.0 1814.6,1062.9 1820.6,1070.4 1829.6,1074.1 1835.6,1079.4 1832.5,1080.0 1846.0,1086.7 1846.0,1090.1 1852.7,1092.1 1854.0,1096.1 1860.8,1100.2 1862.1,1108.2 1866.1,1117.6 1867.5,1120.3 1872.9,1125.7 1876.9,1135.1 1885.0,1139.1 1897.1,1143.2 1898.4,1149.9 1911.8,1155.3 1917.2,1156.6 1921.2,1160.6 1916.5,1165.3 1920.6,1168.7 1920.6,1175.4 1933.3,1178.8 1923.9,1188.9 1932.0,1191.6 1929.3,1194.9 1934.0,1196.9 1930.0,1201.0 1934.7,1203.0 1930.0,1206.3 1937.4,1208.4 1911.8,1218.4 1926.6,1221.8 1913.9,1226.5 1928.0,1228.5 1987.1,1229.9 1980.4,1233.2 1975.0,1235.9 2003.2,1235.9" fill="none" stroke="#EDB120" stroke-width="4.5" stroke-linejoin="round" stroke-linecap="butt"/>
<polyline points="1161.2,728.2 1254.6,731.7 1299.5,733.2 1344.3,735.4 1366.7,739.1 1414.3,744.4 1430.0,746.6 1467.4,752.6 1494.3,755.6 1507.7,762.3 1542.1,769.0 1552.6,773.5 1564.5,774.6 1573.5,778.8 1594.4,783.2 1613.9,787.4 1627.3,791.5 1646.7,803.4 1654.2,804.9 1663.2,810.1 1675.1,813.9 1687.1,823.6 1699.1,829.6 1707.0,833.1 1714.5,836.9 1723.4,844.3 1729.4,851.1 1733.2,856.3 1744.4,860.0 1757.8,867.5 1762.3,873.5 1769.8,878.7 1772.8,882.5 1784.7,889.2 1787.7,892.9 1793.7,895.9 1795.2,900.0 1799.7,906.7 1805.7,909.7 1814.6,919.4 1817.6,926.9 1825.1,929.9 1837.0,940.4 1838.5,946.3 1850.5,953.8 1852.0,958.3 1862.5,968.8 1871.4,974.0 1874.4,980.7 1877.4,988.2 1881.1,995.7 1881.1,1001.6 1889.4,1007.6 1896.1,1019.6 1896.1,1024.1 1903.6,1030.0 1904.3,1036.0 1909.5,1043.5 1908.8,1051.0 1911.8,1058.4 1911.8,1064.4 1920.8,1071.9 1926.7,1077.9 1928.0,1080.0 1932.0,1086.0 1936.7,1090.8 1937.4,1097.5 1948.1,1106.9 1950.8,1113.6 1957.5,1116.3 1956.2,1123.0 1961.6,1128.4 1962.9,1132.4 1968.3,1135.1 1966.9,1139.1 1973.7,1147.2 1974.3,1155.3 1977.7,1162.0 1980.4,1171.4 1980.4,1182.2 1977.7,1187.5 1976.4,1192.2 1980.4,1195.6 1980.4,1202.3 1991.1,1209.0 1991.8,1214.4 1997.9,1218.4 2003.2,1218.4" fill="none" stroke="#7E2F8E" stroke-width="4.5" stroke-linejoin="round" stroke-linecap="butt"/>
<polyline points="1161.2,727.9 1254.6,728.7 1329.4,729.7 1389.2,731.7 1414.3,733.2 1430.0,733.2 1459.9,735.4 1498.5,737.7 1507.7,739.6 1542.1,741.7 1557.1,744.7 1582.8,746.2 1621.3,750.1 1639.3,753.3 1657.2,755.6 1684.1,761.6 1702.0,763.5 1707.0,765.6 1729.4,771.1 1751.8,778.1 1766.8,781.1 1778.7,785.3 1790.7,789.8 1801.2,795.0 1814.6,801.0 1823.6,809.2 1832.6,817.0 1843.0,819.7 1850.5,827.2 1856.5,836.1 1864.0,842.1 1871.4,850.3 1880.4,855.6 1889.4,861.5 1898.3,871.3 1907.3,881.0 1911.8,890.7 1920.8,897.4 1920.8,900.0 1931.2,909.0 1940.2,922.4 1950.6,935.9 1953.6,943.3 1964.1,953.8 1967.1,964.3 1974.6,974.7 1976.1,982.2 1980.5,989.7 1983.5,997.2 1985.0,1007.6 1987.3,1019.6 1988.0,1034.5 1989.5,1049.5 1990.3,1064.4 1992.5,1079.4 1993.2,1080.0 1993.8,1085.4 1995.2,1088.1 1995.2,1097.5 1996.5,1106.9 1997.2,1119.0 1999.2,1123.0 1998.5,1140.5 1997.9,1160.6 2001.9,1162.0 2001.9,1178.1 2004.6,1178.8 2004.6,1242.4" fill="none" stroke="#77AC30" stroke-width="4.5" stroke-linejoin="round" stroke-linecap="butt"/>
<text transform="translate(1582.7 722.4)" font-size="25.2" font-weight="bold" text-anchor="middle" fill="#000">PR Curve</text>
<text transform="translate(1582.7 1302.3) scale(1 1.04)" font-size="22.9" font-weight="bold" text-anchor="middle" fill="#262626">Recall</text>
<text transform="translate(1113 985.5) rotate(-90) scale(1 1.04)" font-size="22.9" font-weight="bold" text-anchor="middle" fill="#262626">Precision</text>
<rect x="1199.5" y="1077" width="205.0" height="134.5" fill="#fff" stroke="#262626" stroke-width="1.1"/>
<line x1="1206.3" y1="1093" x2="1268.8" y2="1093" stroke="#0072BD" stroke-width="4.2"/>
<text transform="translate(1273.4 1100.4) scale(1 1.04)" font-size="18.75" font-weight="normal" text-anchor="start" fill="#000">RF</text>
<line x1="1206.3" y1="1118.7" x2="1268.8" y2="1118.7" stroke="#D95319" stroke-width="4.2"/>
<text transform="translate(1273.4 1126.1) scale(1 1.04)" font-size="18.75" font-weight="normal" text-anchor="start" fill="#000">BP</text>
<line x1="1206.3" y1="1144.4" x2="1268.8" y2="1144.4" stroke="#EDB120" stroke-width="4.2"/>
<text transform="translate(1273.4 1151.8) scale(1 1.04)" font-size="18.75" font-weight="normal" text-anchor="start" fill="#000">SVM</text>
<line x1="1206.3" y1="1170.1" x2="1268.8" y2="1170.1" stroke="#7E2F8E" stroke-width="4.2"/>
<text transform="translate(1273.4 1177.5) scale(1 1.04)" font-size="18.75" font-weight="normal" text-anchor="start" fill="#000">XGBoost</text>
<line x1="1206.3" y1="1195.8" x2="1268.8" y2="1195.8" stroke="#77AC30" stroke-width="4.2"/>
<text transform="translate(1273.4 1203.2) scale(1 1.04)" font-size="18.75" font-weight="normal" text-anchor="start" fill="#000">TSDPSO-SVM</text>
<text transform="translate(1096 716) scale(1 1.04)" font-size="29.2" font-weight="bold" text-anchor="start" fill="#000">C</text>
</g>
</svg>
</body></html>
